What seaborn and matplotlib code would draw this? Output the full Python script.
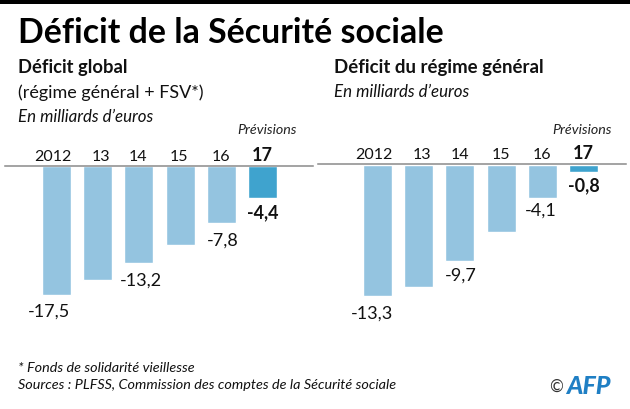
import matplotlib
matplotlib.use("Agg")
import matplotlib.pyplot as plt
import seaborn as sns
import pandas as pd
from matplotlib.transforms import offset_copy

years = ["2012", "13", "14", "15", "16", "17"]
# Bar lengths as drawn in the picture; printed labels are kept separately
global_bars = [-17.5, -15.5, -13.2, -10.7, -7.8, -4.4]
global_labels = ["-17,5", None, "-13,2", None, "-7,8", "-4,4"]
general_bars = [-13.3, -12.4, -9.7, -6.8, -3.35, -0.8]
general_labels = ["-13,3", None, "-9,7", None, "-4,1", "-0,8"]

LIGHT, DARK = "#94C4E0", "#3FA3CE"
W, H = 630, 409
FONT = "Lato"
sns.set_theme(style="white")
plt.rcParams["font.family"] = [FONT, "DejaVu Sans"]
fig = plt.figure(figsize=(W / 100, H / 100), dpi=100, facecolor="white")

def px(x, y):
    return x / W, 1 - y / H

def panel(bars, labels, left, right, base, first, scale, tick_dx, label_dx, label_dy):
    bottom = 330
    ax = fig.add_axes([left / W, 1 - bottom / H, (right - left) / W, (bottom - base) / H])
    df = pd.DataFrame({"year": years, "value": bars})
    sns.barplot(data=df, x="year", y="value", hue="year", dodge=False, legend=False,
                palette=[LIGHT] * 5 + [DARK], width=29 / 41.2, ax=ax, saturation=1)
    ax.set_xlim((left - first) / 41.2, (right - first) / 41.2)
    ax.set_ylim(-(bottom - base) / scale, 0)
    ax.patch.set_alpha(0)
    for s in ("left", "right", "bottom"):
        ax.spines[s].set_visible(False)
    ax.spines["top"].set_color("#8a8a8a")
    ax.spines["top"].set_linewidth(1.1)
    ax.set_xlabel(""); ax.set_ylabel(""); ax.set_yticks([])
    ax.xaxis.tick_top()
    ax.tick_params(axis="x", length=0, pad=1.5, labelsize=11.5, labelcolor="#111111")
    ax.set_xticks(range(6), years)
    for i, t in enumerate(ax.get_xticklabels()):
        t.set_transform(offset_copy(t.get_transform(), fig=fig, x=tick_dx[i], y=0, units="dots"))
        if i == 5:
            t.set_fontweight("bold")
            t.set_fontsize(13)
    for i, lab in enumerate(labels):
        if lab:
            ax.annotate(lab, (i, bars[i]), xytext=(label_dx[i] * .72, -label_dy[i] * .72),
                        textcoords="offset points", ha="center", va="center",
                        fontsize=13, color="#111111",
                        fontweight="bold" if i == 5 else "normal")
    return ax

panel(global_bars, global_labels, 5, 313, 166, 56.5, 7.37,
      [-4, 3, -1, -1, 0, 0], [-8, 0, 2, 0, 1, 0], [17, 0, 17, 0, 17, 14])
panel(general_bars, general_labels, 318, 626, 164.5, 377.5, 9.9,
      [-4, 3, 0, 0, 0, 0], [-5, 0, 1, 0, -2, 0], [17, 0, 15, 0, 13, 13])

def T(x, y, s, size, **kw):
    xf, yf = px(x, y)
    kw.setdefault("color", "#111111")
    fig.text(xf, yf, s, fontsize=size, va="center", **kw)

fig.add_artist(plt.Rectangle(px(0, 4), 1, 4 / H, transform=fig.transFigure, color="black", lw=0))
T(18, 33, "Déficit de la Sécurité sociale", 24.4, fontweight="bold", color="black")
T(18, 68, "Déficit global", 13.2, fontweight="bold")
T(18, 93, "(régime général + FSV*)", 13)
T(18, 117, "En milliards d’euros", 12.2, style="italic")
T(237, 130, "Prévisions", 10.3, style="italic", color="#222222")
T(334, 68, "Déficit du régime général", 13.4, fontweight="bold")
T(334, 92, "En milliards d’euros", 12.2, style="italic")
T(552, 130, "Prévisions", 10.3, style="italic", color="#222222")
T(18, 368, "* Fonds de solidarité vieillesse", 10.35, style="italic")
T(18, 385, "Sources : PLFSS, Commission des comptes de la Sécurité sociale", 10.35, style="italic")
T(549, 387, "©", 12, color="#333333")
T(566, 386, "AFP", 18, fontweight="black", style="italic", color="#1F7FC4")

fig.savefig("out.png", dpi=100)
